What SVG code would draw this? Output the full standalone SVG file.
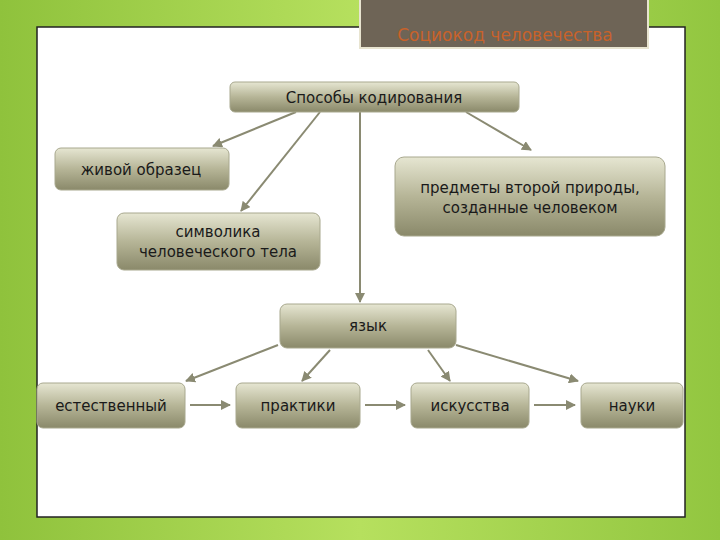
<svg xmlns="http://www.w3.org/2000/svg" width="720" height="540" viewBox="0 0 720 540">
<defs>
<linearGradient id="bg" x1="0" y1="0" x2="1" y2="0"><stop offset="0" stop-color="#8fc23c"/><stop offset="0.5" stop-color="#b6e05e"/><stop offset="1" stop-color="#92c640"/></linearGradient>
<linearGradient id="nf" x1="0" y1="0" x2="0" y2="1"><stop offset="0" stop-color="#e6e6d2"/><stop offset="0.5" stop-color="#b6b597"/><stop offset="1" stop-color="#8a896a"/></linearGradient>
<marker id="ar" viewBox="0 0 10 10" refX="9" refY="5" markerWidth="5" markerHeight="5" orient="auto"><path d="M0,0L10,5L0,10z" fill="#8a8a72"/></marker>
<style>
.n{fill:url(#nf);stroke:#a8a88e;stroke-width:1}
.t{font-family:"DejaVu Sans","Liberation Sans",sans-serif;font-size:15px;fill:#1a1a1a;text-anchor:middle}
.c{stroke:#8a8a72;stroke-width:2;fill:none;marker-end:url(#ar)}
</style>
</defs>
<rect width="720" height="540" fill="url(#bg)"/>
<rect x="37" y="27" width="648" height="490" fill="#fff" stroke="#222" stroke-width="1.5"/>
<g id="title"><rect x="360" y="-4" width="288" height="52" fill="#6e6456" stroke="#e8e4d0" stroke-width="2"/><text x="505" y="41" font-family="DejaVu Sans,sans-serif" font-size="17" fill="#c8622a" text-anchor="middle">Социокод человечества</text></g>
<g id="connectors">
<line class="c" x1="296" y1="112" x2="213" y2="146"/>
<line class="c" x1="320" y1="112" x2="241" y2="211"/>
<line class="c" x1="360" y1="112" x2="360" y2="302"/>
<line class="c" x1="466" y1="112" x2="531" y2="150"/>
<line class="c" x1="278" y1="345" x2="186" y2="381"/>
<line class="c" x1="330" y1="350" x2="302" y2="381"/>
<line class="c" x1="428" y1="350" x2="450" y2="381"/>
<line class="c" x1="456" y1="345" x2="578" y2="381"/>
<line class="c" x1="190" y1="405" x2="230" y2="405"/>
<line class="c" x1="365" y1="405" x2="405" y2="405"/>
<line class="c" x1="534" y1="405" x2="575" y2="405"/>
</g>
<g id="n1"><rect class="n" x="230" y="82" width="289" height="30" rx="5"/><text class="t" x="374" y="103">Способы кодирования</text></g>
<g id="n2"><rect class="n" x="55" y="148" width="174" height="42" rx="6"/><text class="t" x="141" y="175">живой образец</text></g>
<g id="n3"><rect class="n" x="395" y="157" width="270" height="79" rx="9"/><text class="t" x="530" y="193">предметы второй природы,</text><text class="t" x="530" y="213">созданные человеком</text></g>
<g id="n4"><rect class="n" x="117" y="213" width="203" height="57" rx="7"/><text class="t" x="218" y="237">символика</text><text class="t" x="218" y="257">человеческого тела</text></g>
<g id="n5"><rect class="n" x="280" y="304" width="176" height="44" rx="7"/><text class="t" x="368" y="331">язык</text></g>
<g id="n6"><rect class="n" x="37" y="383" width="148" height="45" rx="6"/><text class="t" x="111" y="411">естественный</text></g>
<g id="n7"><rect class="n" x="236" y="383" width="124" height="45" rx="6"/><text class="t" x="298" y="411">практики</text></g>
<g id="n8"><rect class="n" x="411" y="383" width="118" height="45" rx="6"/><text class="t" x="470" y="411">искусства</text></g>
<g id="n9"><rect class="n" x="581" y="383" width="102" height="45" rx="6"/><text class="t" x="632" y="411">науки</text></g>
</svg>
